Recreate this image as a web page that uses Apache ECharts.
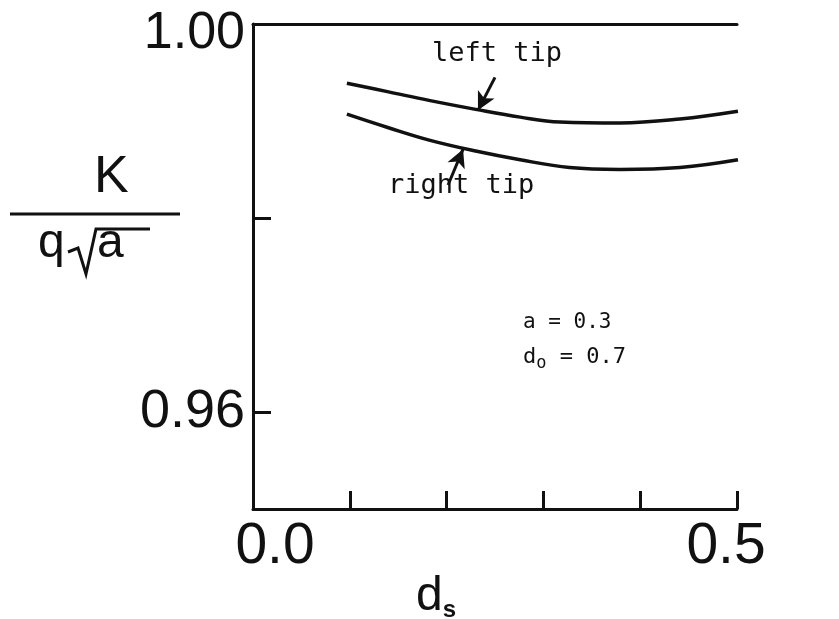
<!DOCTYPE html>
<html>
<head>
<meta charset="utf-8">
<script src="https://cdn.jsdelivr.net/npm/echarts@6/dist/echarts.min.js"></script>
<style>
  html, body { margin: 0; padding: 0; background: #fff; }
  #chart { width: 839px; height: 619px; }
</style>
</head>
<body>
<div id="chart"></div>
<script>
// d_s values
const dsLeft = [0.097, 0.14, 0.183, 0.23, 0.276, 0.317, 0.379, 0.441, 0.501];
const kLeft = [0.9939, 0.9930, 0.9921, 0.9912, 0.9904, 0.9899, 0.9898, 0.9902, 0.9910];
const dsRight = [0.097, 0.14, 0.183, 0.23, 0.276, 0.327, 0.379, 0.441, 0.501];
const kRight = [0.9907, 0.9893, 0.9880, 0.9869, 0.9860, 0.9852, 0.9850, 0.9852, 0.9860];

// 轴刻度
const xTicks = [0.1, 0.2, 0.3, 0.4, 0.5];
const xLabels = [0, 0.5];
const yTicks = [0.96, 0.98];
const yLabels = [0.96, 1.00];

// arrows: [tail, head] in data units
const leftArrow = [[0.250, 0.9945], [0.2324, 0.9911]];
const rightArrow = [[0.2015, 0.9834], [0.217, 0.9871]];

const ink = '#111';
const labelFont = '"Liberation Sans", sans-serif';
const monoFont = '"DejaVu Sans Mono", monospace';

const toPairs = (xs, ys) => xs.map((x, i) => [x, ys[i]]);

function arrowLine(pts) {
    return {
        silent: true,
        symbol: ['none', 'arrow'],
        symbolSize: [14, 18],
        lineStyle: { color: ink, width: 3, type: 'solid' },
        label: { show: false },
        data: [[{ coord: pts[0] }, { coord: pts[1] }]]
    };
}

const chart = echarts.init(document.getElementById('chart'));

const option = {
    backgroundColor: '#fff',
    animation: false,
    grid: {
        left: 253,
        right: 102,
        top: 24,
        bottom: 110,
        outerBoundsMode: 'none'
    },
    xAxis: [{
        type: 'value',
        min: 0,
        max: 0.5,
        interval: 0.1,
        splitLine: { show: false },
        axisLine: { lineStyle: { color: ink, width: 3 } },
        axisTick: {
            inside: true,
            length: 18,
            customValues: xTicks,
            lineStyle: { color: ink, width: 3 }
        },
        axisLabel: {
            customValues: xLabels,
            margin: 10,
            formatter: v => v === 0 ? '{z|0.0}' : '{n|' + v.toFixed(1) + '}',
            rich: {
                z: { fontSize: 57, fontFamily: labelFont, color: ink, padding: [0, 0, 0, 44] },
                n: { fontSize: 57, fontFamily: labelFont, color: ink, padding: [0, 22, 0, 0] }
            }
        }
    }, {
        type: 'value',
        position: 'top',
        min: 0,
        max: 0.5,
        axisLine: { lineStyle: { color: ink, width: 3 } },
        axisTick: { show: false },
        axisLabel: { show: false },
        splitLine: { show: false }
    }],
    yAxis: {
        type: 'value',
        min: 0.95,
        max: 1.00,
        interval: 0.01,
        splitLine: { show: false },
        axisLine: { lineStyle: { color: ink, width: 3 } },
        axisTick: {
            inside: true,
            length: 18,
            customValues: yTicks,
            lineStyle: { color: ink, width: 3 }
        },
        axisLabel: {
            customValues: yLabels,
            margin: 8,
            formatter: v => v >= 0.999 ? '{t|1.00}' : '{n|' + v.toFixed(2) + '}',
            rich: {
                t: { fontSize: 52, fontFamily: labelFont, color: ink, padding: [20, 0, 0, 0] },
                n: { fontSize: 54, fontFamily: labelFont, color: ink }
            }
        }
    },
    series: [{
        name: 'left tip',
        type: 'line',
        data: toPairs(dsLeft, kLeft),
        smooth: 0.4,
        symbol: 'none',
        lineStyle: { color: ink, width: 3.5 },
        markLine: arrowLine(leftArrow)
    }, {
        name: 'right tip',
        type: 'line',
        data: toPairs(dsRight, kRight),
        smooth: 0.4,
        symbol: 'none',
        lineStyle: { color: ink, width: 3.5 },
        markLine: arrowLine(rightArrow)
    }],
    graphic: [
        // y 轴标题 K / q√a
        { type: 'text', left: 94, top: 152, style: { text: 'K', font: '52px ' + labelFont, fill: ink } },
        { type: 'line', shape: { x1: 10, y1: 214, x2: 180, y2: 214 }, style: { stroke: ink, lineWidth: 3 } },
        { type: 'text', left: 38, top: 220, style: { text: 'q', font: '48px ' + labelFont, fill: ink } },
        { type: 'polyline', shape: { points: [[68, 252], [78, 248], [86, 274], [96, 229], [150, 229]] },
          style: { stroke: ink, lineWidth: 3, fill: null } },
        { type: 'text', left: 97, top: 220, style: { text: 'a', font: '48px ' + labelFont, fill: ink } },
        // x 轴标题 d_s
        {
            type: 'text', left: 416, top: 573,
            style: {
                text: '{d|d}{s|s}',
                rich: {
                    d: { font: '48px ' + labelFont, fill: ink, lineHeight: 50 },
                    s: { font: 'bold 24px ' + labelFont, fill: ink, verticalAlign: 'bottom' }
                }
            }
        },
        // 注释
        { type: 'text', left: 432, top: 40, style: { text: 'left tip', font: '27px ' + monoFont, fill: ink } },
        { type: 'text', left: 388, top: 172, style: { text: 'right tip', font: '27px ' + monoFont, fill: ink } },
        { type: 'text', left: 523, top: 312, style: { text: 'a = 0.3', font: '21px ' + monoFont, fill: ink } },
        {
            type: 'text', left: 523, top: 346,
            style: {
                text: '{d|d}{o|o}{r| = 0.7}',
                rich: {
                    d: { font: '22px ' + monoFont, fill: ink, lineHeight: 30 },
                    o: { font: '17px ' + monoFont, fill: ink, verticalAlign: 'bottom' },
                    r: { font: '22px ' + monoFont, fill: ink, lineHeight: 30 }
                }
            }
        }
    ]
};

chart.setOption(option);
</script>
</body>
</html>
